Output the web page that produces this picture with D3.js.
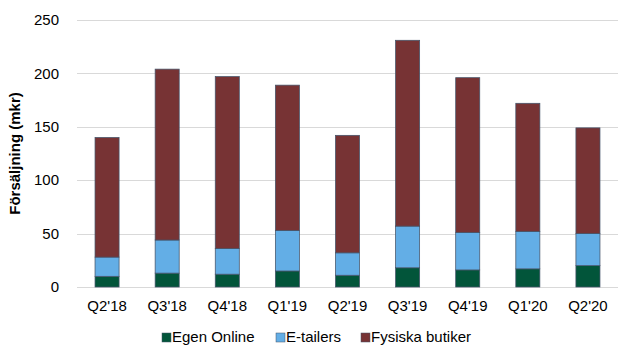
<!DOCTYPE html>
<html>
<head>
<meta charset="utf-8">
<script src="https://cdn.jsdelivr.net/npm/d3@7"></script>
<style>
body { margin: 0; background: #fff; }
svg { font-family: "Liberation Sans", Arial, sans-serif; }
</style>
</head>
<body>
<svg></svg>
<script>
var quarters = ["Q2'18", "Q3'18", "Q4'18", "Q1'19", "Q2'19", "Q3'19", "Q4'19", "Q1'20", "Q2'20"];
var seriesNames = ["Egen Online", "E-tailers", "Fysiska butiker"];
var egenOnline = [10, 13, 12, 15, 11, 18, 16, 17, 20];
var eTailers = [18, 31, 24, 38, 21, 39, 35, 35, 30];
var fysiska = [112, 160, 161, 136, 110, 174, 145, 120, 99];
var yTicks = [0, 50, 100, 150, 200, 250];
var colors = ["#02553a", "#63aee6", "#773334"];

var width = 621, height = 345;
var margin = {top: 20, right: 3, bottom: 58, left: 77};

var svg = d3.select("svg").attr("width", width).attr("height", height);

var rows = quarters.map(function(q, i) {
  return {q: q, "Egen Online": egenOnline[i], "E-tailers": eTailers[i], "Fysiska butiker": fysiska[i]};
});
var stacked = d3.stack().keys(seriesNames)(rows);

var x = d3.scaleBand()
  .domain(quarters)
  .range([margin.left, width - margin.right])
  .paddingInner(0.6)
  .paddingOuter(0.3);
var y = d3.scaleLinear()
  .domain([0, 250])
  .range([height - margin.bottom, margin.top]);

// grid
svg.append("g")
  .selectAll("line")
  .data(yTicks)
  .enter().append("line")
  .attr("x1", margin.left)
  .attr("x2", width - margin.right)
  .attr("y1", d => Math.round(y(d)) + 0.5)
  .attr("y2", d => Math.round(y(d)) + 0.5)
  .style("stroke", "#d9d9d9")
  .style("stroke-width", 1);

// y labels
svg.append("g")
  .selectAll("text")
  .data(yTicks)
  .enter().append("text")
  .attr("x", 59)
  .attr("y", d => y(d))
  .attr("dy", "0.35em")
  .attr("text-anchor", "end")
  .style("font-size", "15px")
  .style("fill", "#000")
  .text(d => d);

// bars
svg.append("g")
  .selectAll("g")
  .data(stacked)
  .enter().append("g")
  .style("fill", (d, i) => colors[i])
  .selectAll("rect")
  .data(d => d)
  .enter().append("rect")
  .attr("x", d => x(d.data.q))
  .attr("width", x.bandwidth())
  .attr("y", d => y(d[1]))
  .attr("height", d => y(d[0]) - y(d[1]))
  .style("stroke", "#44546a")
  .style("stroke-width", 0.75);

// x labels
svg.append("g")
  .selectAll("text")
  .data(quarters)
  .enter().append("text")
  .attr("x", d => x(d) + x.bandwidth() / 2)
  .attr("y", 311)
  .attr("text-anchor", "middle")
  .style("font-size", "15px")
  .style("fill", "#000")
  .text(d => d);

// y title
svg.append("text")
  .attr("transform", "translate(20," + ((margin.top + height - margin.bottom) / 2) + ") rotate(-90)")
  .attr("text-anchor", "middle")
  .style("font-size", "15px")
  .style("font-weight", "bold")
  .text("Försäljning (mkr)");

// legend
var legendX = [162, 276, 361];
var leg = svg.append("g")
  .selectAll("g")
  .data(seriesNames)
  .enter().append("g")
  .attr("transform", (d, i) => "translate(" + legendX[i] + ",342)");
leg.append("rect")
  .attr("x", 0).attr("y", -9)
  .attr("width", 9).attr("height", 9)
  .style("fill", (d, i) => colors[i])
  .style("stroke", "#44546a")
  .style("stroke-width", 0.5);
leg.append("text")
  .attr("x", 10)
  .attr("y", 0)
  .style("font-size", "15px")
  .text(d => d);
</script>
</body>
</html>
